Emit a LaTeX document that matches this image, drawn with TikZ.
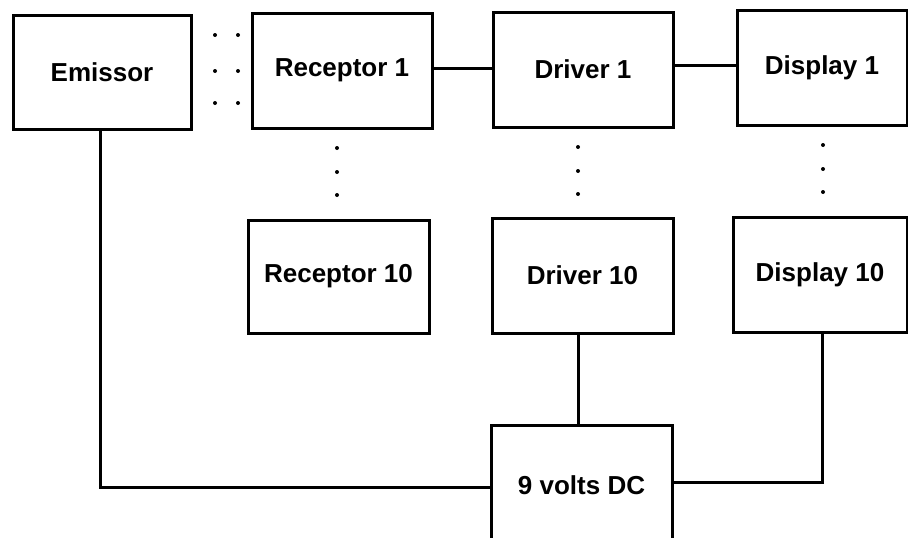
\documentclass[tikz,border=0pt]{standalone}
\usepackage{fontspec}
\setmainfont{Liberation Sans}
\begin{document}
\begin{tikzpicture}[x=1pt,y=-1pt,
  blk/.style={draw, line width=3pt, minimum width=#1, minimum height=115pt, inner sep=0pt,
    font=\fontsize{26}{31}\selectfont\bfseries},
  wire/.style={line width=3pt},
  dotmark/.style={circle, fill, inner sep=0pt, minimum size=4pt}]
\useasboundingbox (0,0) rectangle (908,538);
\node[blk=178pt, minimum height=114pt] (em) at (102,72) {Emissor};
\node[blk=180pt] (r1) at (342,70.5) {Receptor 1};
\node[blk=180pt] (d1) at (583,69.5) {Driver 1};
\node[blk=170pt] (s1) at (822,67.5) {Display 1};
\node[blk=181pt, minimum height=113pt] (r10) at (338.5,276.5) {Receptor 10};
\node[blk=181pt] (d10) at (582.5,275.5) {Driver 10};
\node[blk=174pt] (s10) at (820,274.5) {Display 10};
\node[blk=181pt, minimum height=120pt] (pw) at (581.5,485) {9 volts DC};
% dots between emissor and receptor 1
\foreach \yy [count=\i] in {35,71,103}{
  \node[dotmark] (dl\i) at (215,\yy) {};
  \node[dotmark] (dr\i) at (238,\yy) {};
}
% vertical dots
\foreach \yy [count=\i] in {148,172,195}{
  \node[dotmark] (vr\i) at (337,\yy) {};
  \node[dotmark] (vd\i) at (578,\yy-1) {};
  \node[dotmark] (vs\i) at (823,\yy-3) {};
}
% connectors
\coordinate (c1) at (100,487);
\coordinate (c2) at (822,482);
\draw[wire] (r1.east |- 0,68) -- (d1.west |- 0,68);
\draw[wire] (d1.east |- 0,65) -- (s1.west |- 0,65);
\draw[wire] (em.south -| c1) -- (c1) -- (pw.west |- c1);
\draw[wire] (d10.south -| 578,0) -- (pw.north -| 578,0);
\draw[wire] (s10.south -| c2) -- (c2) -- (pw.east |- c2);
\end{tikzpicture}
\end{document}
